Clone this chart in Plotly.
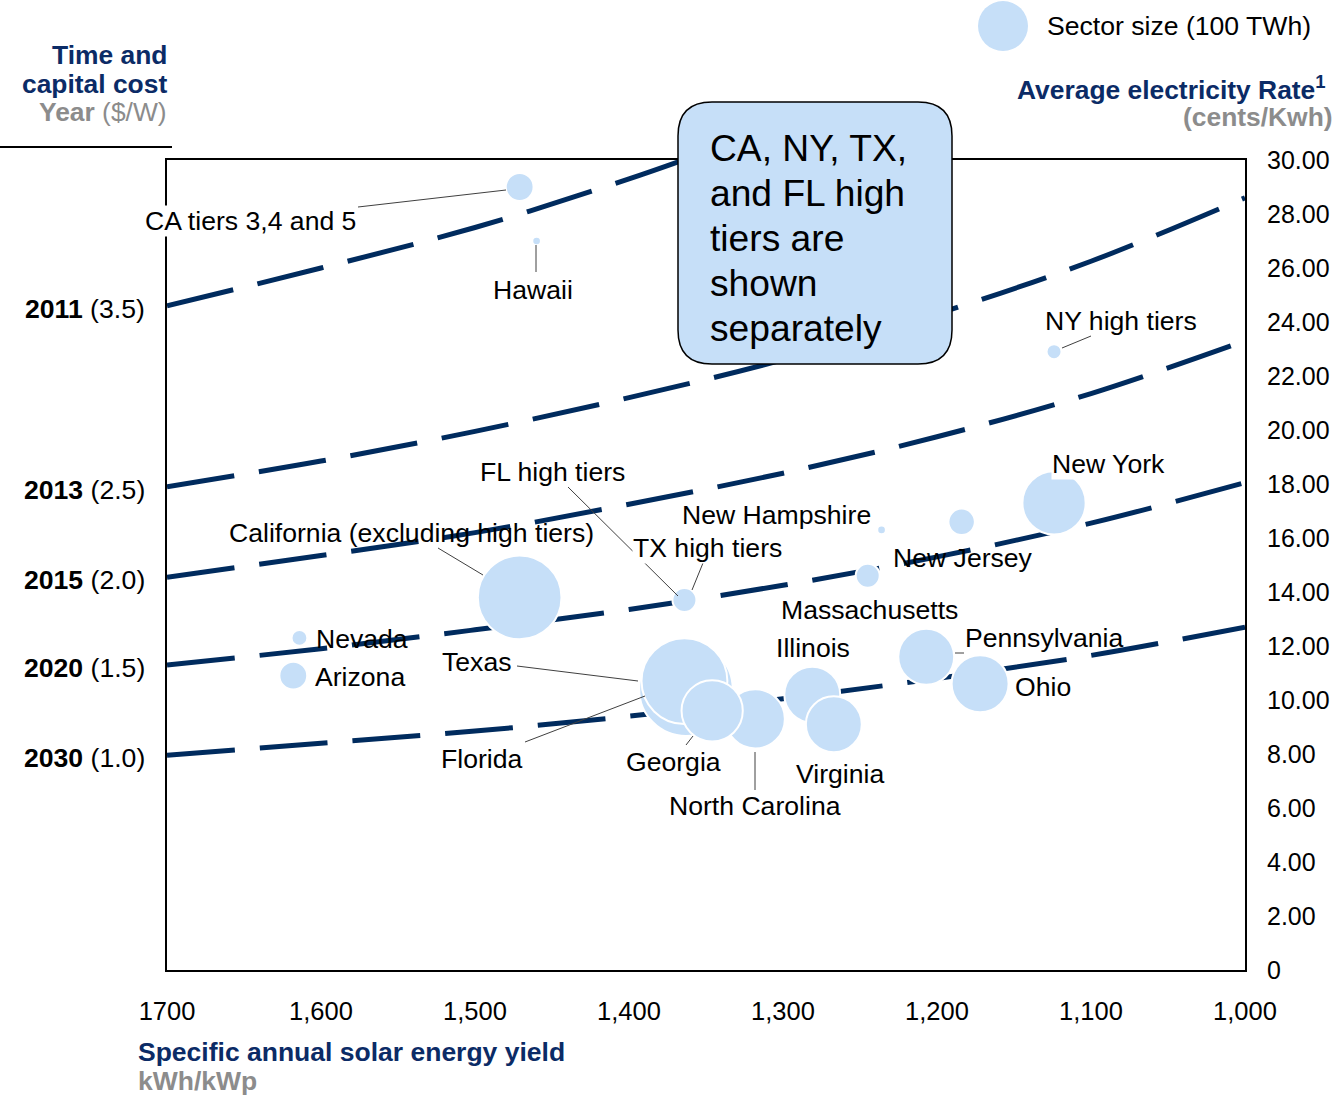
import math
import plotly.graph_objects as go

# ---------------- data ----------------
# Iso-cost curves (system cost scenario by year)
curve_years = ["2011", "2013", "2015", "2020", "2030"]
curve_costs = ["3.5", "2.5", "2.0", "1.5", "1.0"]

yield_2011 = [1700, 1600, 1500, 1400, 1350]
rate_2011 = [24.6, 26.0, 27.5, 29.3, 30.3]

yield_grid = [1700, 1600, 1500, 1400, 1300, 1200, 1100, 1000]
rate_2013 = [17.9, 18.85, 19.95, 21.2, 22.6, 24.3, 26.25, 28.6]
rate_2015 = [14.55, 15.35, 16.2, 17.25, 18.4, 19.75, 21.35, 23.3]
rate_2020 = [11.3, 11.9, 12.6, 13.35, 14.25, 15.3, 16.55, 18.05]
rate_2030 = [7.95, 8.4, 8.85, 9.4, 10.05, 10.8, 11.65, 12.7]

# Sectors (drawing order: later ones on top)
sector_names = ["CA tiers 3,4 and 5", "Hawaii", "NY high tiers", "New Hampshire", "New Jersey",
                "Massachusetts", "FL high tiers", "TX high tiers", "California", "Nevada",
                "Arizona", "Texas", "Florida", "North Carolina", "Georgia", "Illinois",
                "Virginia", "Pennsylvania", "Ohio", "New York"]
sector_yield = [1471, 1460, 1124, 1236, 1184, 1245, 1364, 1364, 1471, 1614,
                1618, 1363, 1364, 1318, 1346, 1281, 1267, 1207, 1172, 1124]
sector_rate = [29.0, 27.0, 22.9, 16.3, 16.6, 14.6, 13.7, 13.7, 13.8, 12.3,
               10.9, 10.4, 10.7, 9.3, 9.6, 10.2, 9.1, 11.6, 10.6, 17.3]
sector_twh = [31, 3, 9, 3, 28, 23, 20, 23, 280, 10,
              31, 350, 295, 140, 150, 125, 125, 125, 130, 160]
legend_twh = 100

x_tick_vals = [1700, 1600, 1500, 1400, 1300, 1200, 1100, 1000]
x_tick_text = ["1700", "1,600", "1,500", "1,400", "1,300", "1,200", "1,100", "1,000"]
y_tick_vals = [0, 2, 4, 6, 8, 10, 12, 14, 16, 18, 20, 22, 24, 26, 28, 30]
y_tick_text = ["0", "2.00", "4.00", "6.00", "8.00", "10.00", "12.00", "14.00", "16.00",
               "18.00", "20.00", "22.00", "24.00", "26.00", "28.00", "30.00"]

# ---------------- style ----------------
FONT = "Liberation Sans, Arial, Helvetica, sans-serif"
NAVY = "#0B2B66"
LINE_NAVY = "#002B5E"
GRAY = "#8C8C8C"
BUBBLE = "#C6DFF8"
LEADER = "#404040"
LABEL_SIZE = 26.6

W, H = 1337, 1096
PL, PR, PT, PB = 167, 1245, 160, 970


def px(xp):
    return (xp - PL) / (PR - PL)


def py(yp):
    return (PB - yp) / (PB - PT)


def diam(twh):
    # 100 TWh -> 50 px diameter (bubble area proportional to sector size)
    return 50 * math.sqrt(twh / 100.0)


fig = go.Figure()

curves = [(yield_2011, rate_2011), (yield_grid, rate_2013), (yield_grid, rate_2015),
          (yield_grid, rate_2020), (yield_grid, rate_2030)]
for xs, ys in curves:
    fig.add_trace(go.Scatter(
        x=xs, y=ys, mode="lines",
        line=dict(color=LINE_NAVY, width=5, dash="68px,25px", shape="spline"),
        hoverinfo="skip"))

fig.add_trace(go.Scatter(
    x=sector_yield, y=sector_rate, mode="markers", name="Sectors",
    marker=dict(size=[diam(t) for t in sector_twh], sizemode="diameter",
                color=BUBBLE, opacity=1, line=dict(color="white", width=2)),
    hoverinfo="skip"))

annotations = []
shapes = []


def add_label(text, xc, yc, bg=None, size=LABEL_SIZE, color="black", anchor="center"):
    annotations.append(dict(
        text=text, x=px(xc), y=py(yc), xref="paper", yref="paper",
        showarrow=False, xanchor=anchor, yanchor="middle",
        font=dict(family=FONT, size=size, color=color),
        bgcolor=bg if bg else "rgba(0,0,0,0)", borderpad=0))


# sector labels (pixel centers)
add_label("CA tiers 3,4 and 5", 250, 221, bg="white")
add_label("Hawaii", 533, 290)
add_label("NY high tiers", 1121, 321)
add_label("New York", 1108, 464, bg="white")
add_label("FL high tiers", 552, 472)
add_label("New Hampshire", 776, 515)
add_label("California (excluding high tiers)", 411, 533)
add_label("TX high tiers", 707, 548, bg="white")
add_label("New Jersey", 963, 558)
add_label("Massachusetts", 869, 610)
add_label("Nevada", 362, 639)
add_label("Pennsylvania", 1044, 638)
add_label("Illinois", 813, 648)
add_label("Texas", 476, 662)
add_label("Arizona", 360, 677)
add_label("Ohio", 1043, 687)
add_label("Florida", 481, 759)
add_label("Georgia", 673, 762)
add_label("Virginia", 840, 774)
add_label("North Carolina", 755, 806)

# leader lines
leaders = [((358, 207), (506, 190)), ((536, 245), (536, 272)), ((1062, 348), (1091, 336)),
           ((438, 548), (483, 575)), ((568, 487), (678, 596)), ((703, 563), (692, 590)),
           ((517, 666), (638, 681)), ((525, 742), (645, 696)), ((686, 745), (693, 736)),
           ((755, 752), (755, 790)), ((955, 653), (964, 653))]
for (x0, y0), (x1, y1) in leaders:
    shapes.append(dict(type="line", xref="paper", yref="paper", x0=px(x0), y0=py(y0),
                       x1=px(x1), y1=py(y1), line=dict(color=LEADER, width=1), layer="above"))

# year labels at the left end of each curve
for (xs, ys), yr, cost in zip(curves, curve_years, curve_costs):
    annotations.append(dict(
        text=f"<b>{yr}</b> ({cost})", x=xs[0], y=ys[0], xref="x", yref="y",
        showarrow=False, xanchor="right", yanchor="middle", xshift=-20, yshift=-3,
        font=dict(family=FONT, size=LABEL_SIZE, color="black")))

# callout box
x0, x1, yb, yt = px(678), px(952), py(364), py(102)
rx, ry = 34 / (PR - PL), 34 / (PB - PT)
path = (f"M {x0+rx},{yt} L {x1-rx},{yt} Q {x1},{yt} {x1},{yt-ry} "
        f"L {x1},{yb+ry} Q {x1},{yb} {x1-rx},{yb} L {x0+rx},{yb} "
        f"Q {x0},{yb} {x0},{yb+ry} L {x0},{yt-ry} Q {x0},{yt} {x0+rx},{yt} Z")
shapes.append(dict(type="path", path=path, xref="paper", yref="paper",
                   fillcolor=BUBBLE, line=dict(color="black", width=1.5), layer="above"))
for line_text, yc in zip(["CA, NY, TX,", "and FL high", "tiers are", "shown", "separately"],
                         [148, 193, 238, 283, 328]):
    add_label(line_text, 709, yc, size=37.2, anchor="left")

# top-left title block
add_label("<b>Time and</b>", 168, 55, color=NAVY, anchor="right", size=26.4)
add_label("<b>capital cost</b>", 168, 84, color=NAVY, anchor="right", size=26.4)
add_label("<b>Year</b> ($/W)", 168, 112, color=GRAY, anchor="right", size=26.4)
shapes.append(dict(type="line", xref="paper", yref="paper", x0=px(0), x1=px(172),
                   y0=py(147), y1=py(147), line=dict(color="black", width=2)))

# right axis title
add_label("<b>Average electricity Rate<sup>1</sup></b>", 1327, 88, color=NAVY,
          anchor="right", size=26.4)
add_label("<b>(cents/Kwh)</b>", 1334, 117, color=GRAY, anchor="right", size=26.4)

# sector size legend
r_leg = diam(legend_twh) / 2
shapes.append(dict(type="circle", xref="paper", yref="paper",
                   x0=px(1003 - r_leg), x1=px(1003 + r_leg),
                   y0=py(26 + r_leg), y1=py(26 - r_leg),
                   fillcolor=BUBBLE, line=dict(width=0), layer="above"))
add_label("Sector size (100 TWh)", 1046, 26, anchor="left")

# x axis title
add_label("<b>Specific annual solar energy yield</b>", 137, 1052, color=NAVY,
          anchor="left", size=26.5)
add_label("<b>kWh/kWp</b>", 137, 1081, color=GRAY, anchor="left", size=26.5)

fig.update_layout(
    template="none",
    width=W, height=H,
    margin=dict(l=PL, r=W - PR, t=PT, b=H - PB, autoexpand=False),
    paper_bgcolor="white", plot_bgcolor="white",
    showlegend=False, hovermode=False,
    font=dict(family=FONT, size=26, color="black"),
    annotations=annotations, shapes=shapes)

fig.update_xaxes(range=[1700, 1000], tickmode="array", tickvals=x_tick_vals,
                 ticktext=x_tick_text, showgrid=False, zeroline=False, showline=True,
                 linecolor="black", linewidth=2, mirror=True, ticks="", automargin=False,
                 ticklabelstandoff=17, tickfont=dict(family=FONT, size=25.5, color="black"))
fig.update_yaxes(range=[0, 30], side="right", tickmode="array", tickvals=y_tick_vals,
                 ticktext=y_tick_text, showgrid=False, zeroline=False, showline=True,
                 linecolor="black", linewidth=2, mirror=True, ticks="", automargin=False,
                 ticklabelstandoff=15, tickfont=dict(family=FONT, size=25, color="black"))

fig.write_html("out.html", config={"displayModeBar": False})
